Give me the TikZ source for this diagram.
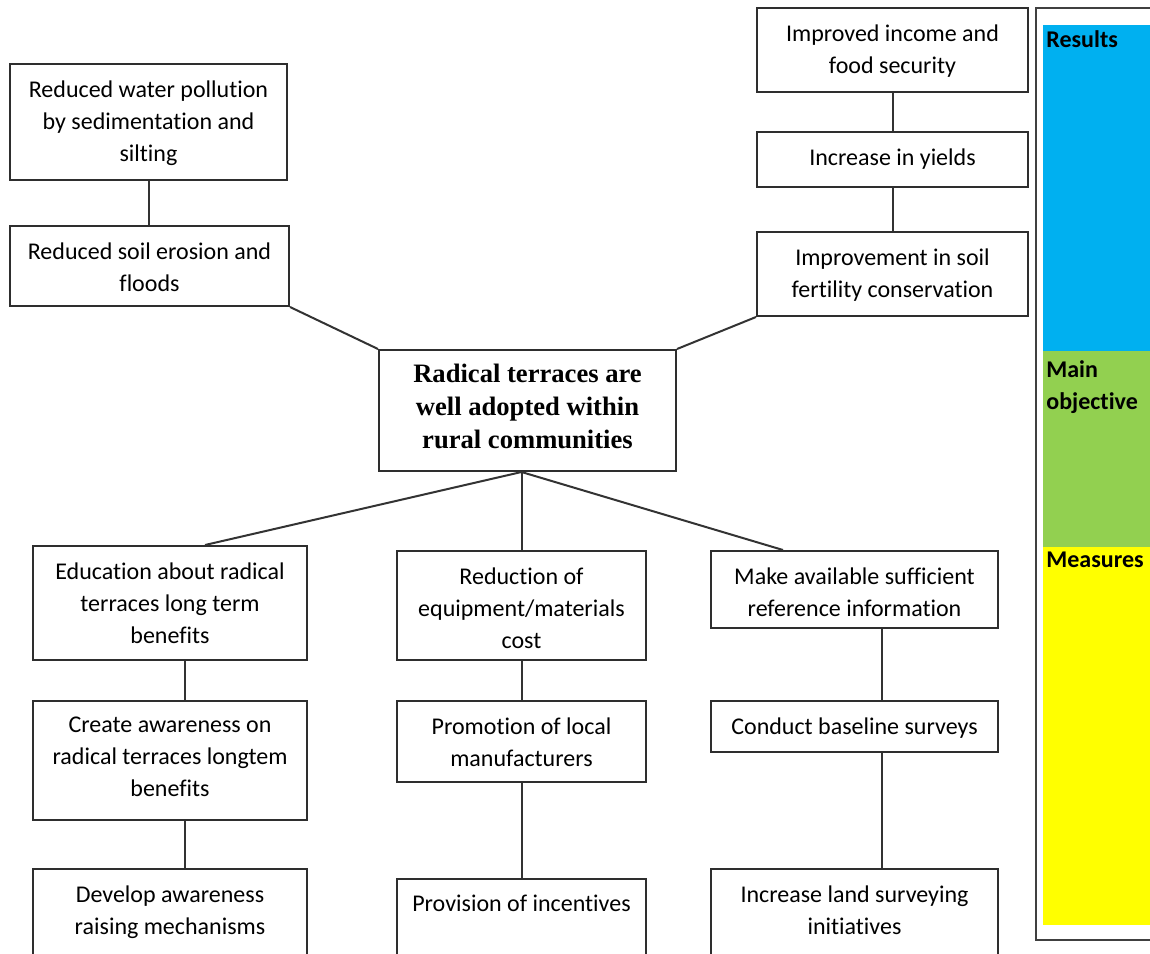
\documentclass[tikz,border=0pt]{standalone}
\usepackage{fontspec}
\setmainfont{Carlito}[Ligatures=NoCommon]
\newfontfamily\goalfont{Liberation Serif}
\usetikzlibrary{fit}
\definecolor{resblue}{HTML}{00B0F0}
\definecolor{objgreen}{HTML}{92D050}
\definecolor{measyellow}{HTML}{FFFF00}
\begin{document}
\begin{tikzpicture}[x=0.5pt,y=-0.5pt,
  frame/.style={draw=black!82, line width=1pt, inner sep=0pt},
  txt/.style={anchor=north, align=center, inner sep=0pt, font=\fontsize{12}{16}\selectfont},
  goaltxt/.style={anchor=north, align=center, inner sep=0pt, font=\goalfont\bfseries\fontsize{13.3}{16.5}\selectfont},
  link/.style={draw=black!80, line width=1pt},
  side/.style={anchor=north west, align=left, inner sep=0pt, font=\bfseries\fontsize{12}{16}\selectfont}]
\useasboundingbox (0,0) rectangle (1150,953);
\clip (0,0) rectangle (1150,953);

% box outline from corners, with its text set near the top
\newcommand\tbox[6]{%
  \node[frame, fit={(#2,#3) (#4,#5)}] (#1) {};
  \node[txt] (#1-t) at ([yshift=-8.5pt]#1.north) {#6};}

% results, left branch
\tbox{wp}{10}{64}{287}{180}{Reduced water pollution\\by sedimentation and\\silting}
\tbox{se}{10}{226}{289}{306}{Reduced soil erosion and\\floods}

% results, right branch
\tbox{inc}{757}{8}{1028}{92}{Improved income and\\food security}
\tbox{yld}{757}{132}{1028}{187}{Increase in yields}
\tbox{isf}{757}{232}{1028}{316}{Improvement in soil\\fertility conservation}

% main objective
\node[frame, fit={(379,350) (676,471)}] (goal) {};
\node[goaltxt] (goal-t) at ([yshift=-7.5pt]goal.north) {Radical terraces are\\well adopted within\\rural communities};

% measures, three columns
\tbox{edu}{33}{546}{307}{660}{Education about radical\\terraces long term\\benefits}
\tbox{cra}{33}{701}{307}{820}{Create awareness on\\radical terraces longtem\\benefits}
\tbox{dev}{33}{869}{307}{985}{Develop awareness\\raising mechanisms}

\tbox{red}{397}{551}{646}{660}{Reduction of\\equipment/materials\\cost}
\tbox{pro}{397}{701}{646}{782}{Promotion of local\\manufacturers}
\tbox{inv}{397}{879}{646}{985}{Provision of incentives}

\tbox{mai}{711}{551}{998}{628}{Make available sufficient\\reference information}
\tbox{cbs}{711}{701}{998}{752}{Conduct baseline surveys}
\tbox{ils}{711}{869}{998}{985}{Increase land surveying\\initiatives}

% connectors
\draw[link] (wp.south) -- (wp.south |- se.north);
\draw[link] (se.south east) -- (goal.north west);
\draw[link] (inc.south) -- (yld.north);
\draw[link] (yld.south) -- (isf.north);
\draw[link] (goal.north east) -- (isf.south west);

\coordinate (hub) at (red.north |- goal.south);
\draw[link] (hub) -- ([xshift=17.5pt]edu.north);
\draw[link] (hub) -- (red.north);
\draw[link] (hub) -- ([xshift=-35.75pt]mai.north);

\draw[link] ([xshift=7.5pt]edu.south) -- ([xshift=7.5pt]cra.north);
\draw[link] ([xshift=7.5pt]cra.south) -- ([xshift=7.5pt]dev.north);
\draw[link] (red.south) -- (pro.north);
\draw[link] (pro.south) -- (inv.north);
\draw[link] ([xshift=13.75pt]mai.south) -- ([xshift=13.75pt]cbs.north);
\draw[link] ([xshift=13.75pt]cbs.south) -- ([xshift=13.75pt]ils.north);

% side legend
\fill[resblue] (1043,25) rectangle (1170,351);
\fill[objgreen] (1043,351) rectangle (1170,547);
\fill[measyellow] (1043,547) rectangle (1170,925);
\draw[draw=black!75, line width=1.35pt] (1170,8) -- (1036,8) -- (1036,940) -- (1170,940);
\node[side] (res) at (1046,30) {Results};
\node[side] (mobj) at (1046,360) {Main\\objective};
\node[side] (meas) at (1046,552) {Measures};
\end{tikzpicture}
\end{document}
